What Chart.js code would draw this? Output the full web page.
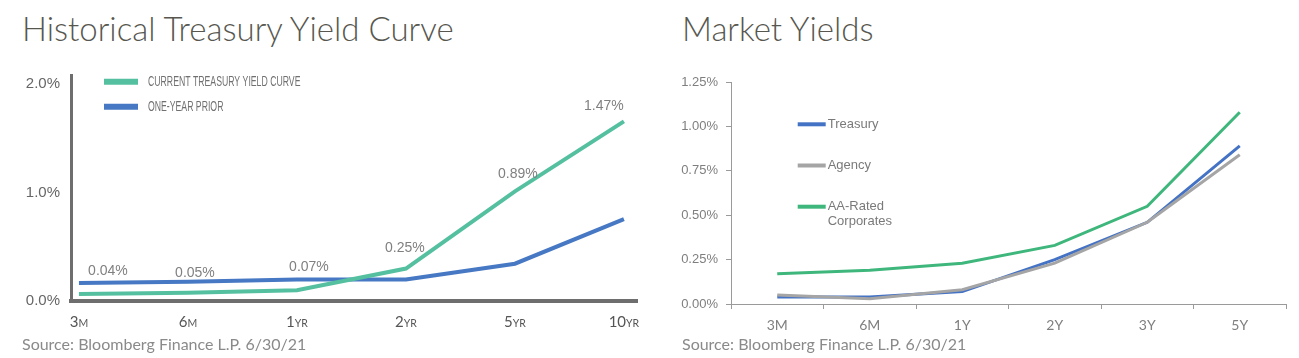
<!DOCTYPE html>
<html>
<head>
<meta charset="utf-8">
<script src="https://cdn.jsdelivr.net/npm/chart.js@4.4.1/dist/chart.umd.min.js"></script>
<style>
    body { margin: 0; background: #fff; width: 1299px; height: 358px; overflow: hidden; position: relative; font-family: Lato, "Open Sans", sans-serif; }
    .titulo { position: absolute; top: 8px; font-weight: 300; font-size: 33px; color: #57574f; white-space: nowrap; }
    .fonte { position: absolute; top: 334px; font-size: 16px; color: #8a8a8a; white-space: nowrap; }
    .caixa { position: absolute; top: 55px; height: 280px; }
</style>
</head>
<body>
<div class="titulo" style="left:22px">Historical Treasury Yield Curve</div>
<div class="titulo" style="left:682px">Market Yields</div>
<div class="caixa" style="left:0; width:650px"><canvas id="graficoHistorico"></canvas></div>
<div class="caixa" style="left:650px; width:649px"><canvas id="graficoMercado"></canvas></div>
<div class="fonte" style="left:22px">Source: Bloomberg Finance L.P. 6/30/21</div>
<div class="fonte" style="left:682px">Source: Bloomberg Finance L.P. 6/30/21</div>

<script>
// Dados do gráfico da curva histórica
const prazosHistorico = ["3M", "6M", "1YR", "2YR", "5YR", "10YR"];
const curvaAtual = [0.04, 0.05, 0.07, 0.25, 0.89, 1.47];
const umAnoAntes = [0.13, 0.14, 0.16, 0.16, 0.29, 0.66];
const ticksHistorico = ["0.0%", "1.0%", "2.0%"];

// Dados do gráfico de rendimentos de mercado
const prazosMercado = ["3M", "6M", "1Y", "2Y", "3Y", "5Y"];
const treasury = [0.04, 0.04, 0.07, 0.25, 0.46, 0.89];
const agency = [0.05, 0.03, 0.08, 0.23, 0.46, 0.84];
const corporativos = [0.17, 0.19, 0.23, 0.33, 0.55, 1.08];
const ticksMercado = ["0.00%", "0.25%", "0.50%", "0.75%", "1.00%", "1.25%"];

// Quebra o texto da legenda em linhas
function quebrarTexto(ctx, texto, larguraMax) {
    const palavras = texto.split(" ");
    const linhas = [];
    let atual = "";
    palavras.forEach((p) => {
        const teste = atual ? atual + " " + p : p;
        if (atual && ctx.measureText(teste).width > larguraMax) {
            linhas.push(atual);
            atual = p;
        } else {
            atual = teste;
        }
    });
    linhas.push(atual);
    return linhas;
}

// Legenda desenhada dentro da área do gráfico
const legendaLinhas = {
    id: "legendaLinhas",
    afterDraw(chart, args, opts) {
        const ctx = chart.ctx;
        chart.data.datasets.forEach((ds, i) => {
            const y = opts.y + i * opts.gap;
            ctx.save();
            ctx.strokeStyle = ds.borderColor;
            ctx.lineWidth = opts.lineWidth;
            ctx.beginPath();
            ctx.moveTo(opts.x, y);
            ctx.lineTo(opts.x + opts.length, y);
            ctx.stroke();
            ctx.font = opts.font;
            ctx.fillStyle = opts.color;
            ctx.textBaseline = "middle";
            const linhas = quebrarTexto(ctx, ds.label, opts.maxWidth);
            linhas.forEach((t, k) => {
                ctx.save();
                ctx.translate(opts.x + opts.length + opts.textGap, y + k * opts.lineHeight);
                ctx.scale(opts.scaleX, 1);
                ctx.fillText(t, 0, 0);
                ctx.restore();
            });
            ctx.restore();
        });
    }
};

// Rótulos de valor da curva atual
const rotulosValores = {
    id: "rotulosValores",
    afterDatasetsDraw(chart, args, opts) {
        const meta = chart.getDatasetMeta(0);
        const ctx = chart.ctx;
        ctx.save();
        ctx.font = opts.font;
        ctx.fillStyle = opts.color;
        ctx.textAlign = "center";
        ctx.textBaseline = "middle";
        meta.data.forEach((p, i) => {
            const d = opts.deslocamentos[i];
            ctx.fillText(curvaAtual[i].toFixed(2) + "%", p.x + d[0], p.y + d[1]);
        });
        ctx.restore();
    }
};

// Rótulos do eixo x com sufixo em versalete
const rotulosPrazo = {
    id: "rotulosPrazo",
    afterDraw(chart, args, opts) {
        const ctx = chart.ctx;
        const escala = chart.scales.x;
        const y = chart.chartArea.bottom + opts.offsetY;
        ctx.save();
        ctx.fillStyle = opts.color;
        ctx.textBaseline = "alphabetic";
        prazosHistorico.forEach((txt, i) => {
            const m = txt.match(/^(\d+)(.*)$/);
            ctx.font = opts.fontGrande;
            const w1 = ctx.measureText(m[1]).width;
            ctx.font = opts.fontPequena;
            const w2 = ctx.measureText(m[2]).width;
            const x0 = escala.getPixelForValue(i) - (w1 + w2) / 2;
            ctx.font = opts.fontGrande;
            ctx.fillText(m[1], x0, y);
            ctx.font = opts.fontPequena;
            ctx.fillText(m[2], x0 + w1, y);
        });
        ctx.restore();
    }
};

new Chart(document.getElementById("graficoHistorico"), {
    type: "line",
    data: {
        datasets: [
            {
                label: "CURRENT TREASURY YIELD CURVE",
                data: curvaAtual.map((v, i) => ({ x: i, y: v })),
                borderColor: "#55c09f",
                borderWidth: 4,
                yAxisID: "yDados",
            },
            {
                label: "ONE-YEAR PRIOR",
                data: umAnoAntes.map((v, i) => ({ x: i, y: v })),
                borderColor: "#4678c3",
                borderWidth: 4,
                yAxisID: "yDados",
            },
        ],
    },
    options: {
        responsive: true,
        maintainAspectRatio: false,
        animation: false,
        layout: { padding: { top: 7, right: 13, left: 0, bottom: 0 } },
        elements: { point: { radius: 0 }, line: { tension: 0 } },
        plugins: {
            legend: { display: false },
            tooltip: { enabled: false },
            legendaLinhas: {
                x: 104, y: 26.7, gap: 25, length: 34, lineWidth: 6, textGap: 10,
                font: "15px 'Liberation Sans', Arial, sans-serif", color: "#707070",
                scaleX: 0.58, lineHeight: 15, maxWidth: 1000,
            },
            rotulosValores: {
                font: "14px 'Liberation Sans', Arial, sans-serif",
                color: "#808080",
                deslocamentos: [[29, -23], [7, -20], [12, -23], [-1, -20], [3, -17], [-20, -15]],
            },
            rotulosPrazo: {
                offsetY: 26,
                color: "#555555",
                fontGrande: "15px Lato, sans-serif",
                fontPequena: "10.5px Lato, sans-serif",
            },
        },
        scales: {
            x: {
                type: "linear",
                min: -0.073,
                max: 5.12,
                grid: { display: false, drawTicks: false },
                border: { color: "#6e6e6e", width: 4 },
                ticks: { display: false, stepSize: 1 },
                afterFit: (s) => { s.height = 34; },
            },
            y: {
                min: 0,
                max: 2.085,
                grid: { display: false, drawTicks: false },
                border: { color: "#6e6e6e", width: 3 },
                ticks: {
                    stepSize: 1,
                    includeBounds: false,
                    padding: 11,
                    color: "#666666",
                    font: { family: "'Liberation Sans', Arial, sans-serif", size: 15 },
                    callback: (v) => ticksHistorico[v],
                },
                afterFit: (s) => { s.width = 71; },
            },
            yDados: { display: false, min: -0.019, max: 1.854 },
        },
    },
    plugins: [rotulosValores, legendaLinhas, rotulosPrazo],
});

new Chart(document.getElementById("graficoMercado"), {
    type: "line",
    data: {
        labels: prazosMercado,
        datasets: [
            { label: "Treasury", data: treasury, borderColor: "#4472c4", borderWidth: 3, order: 1 },
            { label: "Agency", data: agency, borderColor: "#a5a5a5", borderWidth: 3, order: 0 },
            { label: "AA-Rated Corporates", data: corporativos, borderColor: "#3fb77c", borderWidth: 3, order: 0 },
        ],
    },
    options: {
        responsive: true,
        maintainAspectRatio: false,
        animation: false,
        layout: { padding: { top: 27, right: 13, left: 0, bottom: 0 } },
        elements: { point: { radius: 0 }, line: { tension: 0 } },
        plugins: {
            legend: { display: false },
            tooltip: { enabled: false },
            legendaLinhas: {
                x: 147.7, y: 69.3, gap: 41.2, length: 28, lineWidth: 4, textGap: 2,
                font: "13px 'Liberation Sans', Arial, sans-serif", color: "#7a7a7a",
                scaleX: 1, lineHeight: 14.5, maxWidth: 70,
            },
        },
        scales: {
            x: {
                offset: true,
                grid: { offset: true, drawOnChartArea: false, drawTicks: true, tickLength: 5, color: "#9a9a9a" },
                border: { color: "#9a9a9a", width: 1 },
                ticks: { padding: 8, color: "#7f7f7f", font: { family: "Lato, sans-serif", size: 14 }, maxRotation: 0 },
                afterFit: (s) => { s.height = 31; },
            },
            y: {
                min: 0,
                max: 1.25,
                grid: { drawOnChartArea: false, drawTicks: true, tickLength: 5, color: "#9a9a9a" },
                border: { color: "#9a9a9a", width: 1 },
                ticks: {
                    stepSize: 0.25,
                    padding: 8,
                    color: "#7f7f7f",
                    font: { family: "'Liberation Sans', Arial, sans-serif", size: 13 },
                    callback: (v) => ticksMercado[Math.round(v / 0.25)],
                },
                afterFit: (s) => { s.width = 81; },
            },
        },
    },
    plugins: [legendaLinhas],
});
</script>
</body>
</html>
